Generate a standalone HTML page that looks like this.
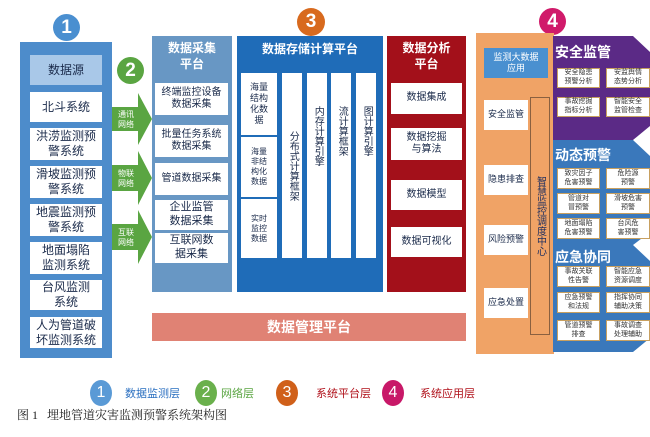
<!DOCTYPE html>
<html><head><meta charset="utf-8"><style>
body{margin:0;width:650px;height:437px;background:#fff;position:relative;overflow:hidden;font-family:"Liberation Sans","Noto Sans CJK SC",sans-serif}
div{position:absolute;box-sizing:border-box}
.w{background:#fff;color:#1a2a4a;display:flex;align-items:center;justify-content:center;text-align:center;line-height:1.25}
.c{border-radius:50%;color:#fff;display:flex;align-items:center;justify-content:center;font-size:19px;font-weight:bold}
.vt{writing-mode:vertical-rl;letter-spacing:0}
.sm{font-size:9px;color:#333;border:1px solid #c8a060}
.tt{color:#fff;font-weight:bold;font-size:15px}
</style></head><body>
<!-- layer 1 -->
<div class="c" style="left:53px;top:14px;width:27px;height:27px;background:#4a8fd0">1</div>
<div style="left:20px;top:42px;width:92px;height:316px;background:#4d8ccb"></div>
<div class="w" style="left:30px;top:55px;width:72px;height:30px;background:#a9c8e8;font-size:12px">数据源</div>
<div class="w" style="left:30px;top:92px;width:72px;height:30px;font-size:12px">北斗系统</div>
<div class="w" style="left:30px;top:128px;width:72px;height:32px;font-size:12px">洪涝监测预<br>警系统</div>
<div class="w" style="left:30px;top:166px;width:72px;height:32px;font-size:12px">滑坡监测预<br>警系统</div>
<div class="w" style="left:30px;top:204px;width:72px;height:32px;font-size:12px">地震监测预<br>警系统</div>
<div class="w" style="left:30px;top:242px;width:72px;height:32px;font-size:12px">地面塌陷<br>监测系统</div>
<div class="w" style="left:30px;top:280px;width:72px;height:30px;font-size:12px">台风监测<br>系统</div>
<div class="w" style="left:30px;top:317px;width:72px;height:31px;font-size:12px">人为管道破<br>坏监测系统</div>
<!-- layer 2 -->
<div class="c" style="left:117px;top:57px;width:27px;height:27px;background:#5aa542">2</div>
<svg style="position:absolute;left:112px;top:90px" width="42" height="180">
<g fill="#5aa542">
<polygon points="0,17 26,17 26,3 40,29 26,55 26,41 0,41"/>
<polygon points="0,75 26,75 26,61 40,88 26,115 26,101 0,101"/>
<polygon points="0,134 26,134 26,120 40,147 26,174 26,160 0,160"/>
</g>
<g fill="#fff" font-size="8" font-family="Noto Sans CJK SC,sans-serif" text-anchor="middle">
<text x="14" y="27">通讯</text><text x="14" y="37">网络</text>
<text x="14" y="86">物联</text><text x="14" y="96">网络</text>
<text x="14" y="145">互联</text><text x="14" y="155">网络</text>
</g></svg>
<!-- collection -->
<div style="left:152px;top:36px;width:80px;height:256px;background:#6897c4"></div>
<div class="tt" style="left:152px;top:40px;width:80px;text-align:center;font-size:12px;line-height:16px">数据采集<br>平台</div>
<div class="w" style="left:155px;top:83px;width:73px;height:32px;font-size:10px">终端监控设备<br>数据采集</div>
<div class="w" style="left:155px;top:125px;width:73px;height:32px;font-size:10px">批量任务系统<br>数据采集</div>
<div class="w" style="left:155px;top:163px;width:73px;height:32px;font-size:10px">管道数据采集</div>
<div class="w" style="left:155px;top:200px;width:73px;height:30px;font-size:11px">企业监管<br>数据采集</div>
<div class="w" style="left:155px;top:233px;width:73px;height:30px;font-size:11px">互联网数<br>据采集</div>
<!-- storage -->
<div class="c" style="left:297px;top:8px;width:28px;height:28px;background:#d86a1e">3</div>
<div style="left:237px;top:36px;width:146px;height:256px;background:#1f6cb8"></div>
<div class="tt" style="left:237px;top:40px;width:146px;text-align:center;font-size:12px">数据存储计算平台</div>
<div class="w" style="left:241px;top:73px;width:36px;height:62px;font-size:9px">海量<br>结构<br>化数<br>据</div>
<div class="w" style="left:241px;top:137px;width:36px;height:60px;font-size:8px">海量<br>非结<br>构化<br>数据</div>
<div class="w" style="left:241px;top:199px;width:36px;height:59px;font-size:8px">实时<br>监控<br>数据</div>
<div class="w" style="left:282px;top:73px;width:20px;height:185px;font-size:10px;align-items:center"><span class="vt">分布式计算框架</span></div>
<div class="w" style="left:307px;top:73px;width:20px;height:185px;font-size:10px;align-items:flex-start;padding-top:33px"><span class="vt">内存计算引擎</span></div>
<div class="w" style="left:331px;top:73px;width:20px;height:185px;font-size:10px;align-items:flex-start;padding-top:33px"><span class="vt">流计算框架</span></div>
<div class="w" style="left:356px;top:73px;width:20px;height:185px;font-size:10px;align-items:flex-start;padding-top:33px"><span class="vt">图计算引擎</span></div>
<!-- analysis -->
<div style="left:387px;top:36px;width:79px;height:256px;background:#a3101a"></div>
<div class="tt" style="left:387px;top:40px;width:79px;text-align:center;font-size:12px;line-height:16px">数据分析<br>平台</div>
<div class="w" style="left:391px;top:83px;width:71px;height:31px;font-size:10px">数据集成</div>
<div class="w" style="left:391px;top:128px;width:71px;height:32px;font-size:10px">数据挖掘<br>与算法</div>
<div class="w" style="left:391px;top:180px;width:71px;height:30px;font-size:10px">数据模型</div>
<div class="w" style="left:391px;top:227px;width:71px;height:30px;font-size:10px">数据可视化</div>
<!-- management -->
<div style="left:152px;top:313px;width:314px;height:28px;background:#e08274;color:#fff;font-size:14px;font-weight:bold;display:flex;align-items:center;justify-content:center">数据管理平台</div>
<!-- app -->
<div class="c" style="left:539px;top:8px;width:27px;height:27px;background:#d01a6a">4</div>
<div style="left:476px;top:33px;width:78px;height:321px;background:#f0a366"></div>
<div class="w" style="left:484px;top:48px;width:64px;height:30px;background:#4a90d0;color:#fff;font-size:9px">监测大数据<br>应用</div>
<div class="w" style="left:484px;top:100px;width:44px;height:30px;font-size:9px">安全监管</div>
<div class="w" style="left:484px;top:165px;width:44px;height:30px;font-size:9px">隐患排查</div>
<div class="w" style="left:484px;top:225px;width:44px;height:30px;font-size:9px">风险预警</div>
<div class="w" style="left:484px;top:288px;width:44px;height:30px;font-size:9px">应急处置</div>
<div style="left:530px;top:97px;width:20px;height:238px;border:1px solid #8a6040;display:flex;align-items:center;justify-content:center;color:#203060;font-size:10px"><span class="vt">智慧监控调度中心</span></div>
<svg style="position:absolute;left:553px;top:36px" width="97" height="320">
<polygon points="0,0 80,0 97,16 97,90 80,104 0,104" fill="#5b2a86"/>
<polygon points="0,104 80,104 97,120 97,196 80,209 0,209" fill="#3a78bb"/>
<polygon points="0,209 80,209 97,225 97,302 80,316 0,316" fill="#3a78bb"/>
</svg>
<div style="left:555px;top:42px;color:#fff;font-size:14px;font-weight:bold">安全监管</div>
<div style="left:555px;top:145px;color:#fff;font-size:14px;font-weight:bold">动态预警</div>
<div style="left:555px;top:247px;color:#fff;font-size:14px;font-weight:bold">应急协同</div>
<div class="w sm" style="left:557px;top:68px;width:43px;height:20px;font-size:7px">安全隐患<br>预警分析</div>
<div class="w sm" style="left:606px;top:68px;width:44px;height:20px;font-size:7px">安监舆情<br>态势分析</div>
<div class="w sm" style="left:557px;top:97px;width:43px;height:20px;font-size:7px">事故挖掘<br>指标分析</div>
<div class="w sm" style="left:606px;top:97px;width:44px;height:20px;font-size:7px">智能安全<br>监管检查</div>
<div class="w sm" style="left:557px;top:168px;width:43px;height:21px;font-size:7px">致灾因子<br>危害预警</div>
<div class="w sm" style="left:606px;top:168px;width:44px;height:21px;font-size:7px">危险源<br>预警</div>
<div class="w sm" style="left:557px;top:193px;width:43px;height:21px;font-size:7px">管道对<br>冒预警</div>
<div class="w sm" style="left:606px;top:193px;width:44px;height:21px;font-size:7px">滑坡危害<br>预警</div>
<div class="w sm" style="left:557px;top:218px;width:43px;height:21px;font-size:7px">地面塌陷<br>危害预警</div>
<div class="w sm" style="left:606px;top:218px;width:44px;height:21px;font-size:7px">台风危<br>害预警</div>
<div class="w sm" style="left:557px;top:266px;width:43px;height:21px;font-size:7px">事故关联<br>性告警</div>
<div class="w sm" style="left:606px;top:266px;width:44px;height:21px;font-size:7px">智能应急<br>资源调度</div>
<div class="w sm" style="left:557px;top:292px;width:43px;height:21px;font-size:7px">应急预警<br>和法规</div>
<div class="w sm" style="left:606px;top:292px;width:44px;height:21px;font-size:7px">指挥协同<br>辅助决策</div>
<div class="w sm" style="left:557px;top:320px;width:43px;height:21px;font-size:7px">管道预警<br>排查</div>
<div class="w sm" style="left:606px;top:320px;width:44px;height:21px;font-size:7px">事故调查<br>处理辅助</div>
<!-- legend -->
<div class="c" style="left:90px;top:380px;width:22px;height:26px;background:#5a9ad6;font-size:16px;font-weight:normal">1</div>
<div style="left:125px;top:385px;color:#2a6fc0;font-size:11px">数据监测层</div>
<div class="c" style="left:195px;top:380px;width:22px;height:26px;background:#6ab04c;font-size:16px;font-weight:normal">2</div>
<div style="left:221px;top:385px;color:#5aa542;font-size:11px">网络层</div>
<div class="c" style="left:276px;top:380px;width:22px;height:26px;background:#d0601a;font-size:16px;font-weight:normal">3</div>
<div style="left:316px;top:385px;color:#b0101a;font-size:11px">系统平台层</div>
<div class="c" style="left:382px;top:380px;width:22px;height:26px;background:#c81868;font-size:16px;font-weight:normal">4</div>
<div style="left:420px;top:385px;color:#b0101a;font-size:11px">系统应用层</div>
<div style="left:17px;top:406px;color:#222;font-size:12px;font-family:'Liberation Serif','Noto Serif CJK SC',serif;white-space:pre">图 1   埋地管道灾害监测预警系统架构图</div>
</body></html>
